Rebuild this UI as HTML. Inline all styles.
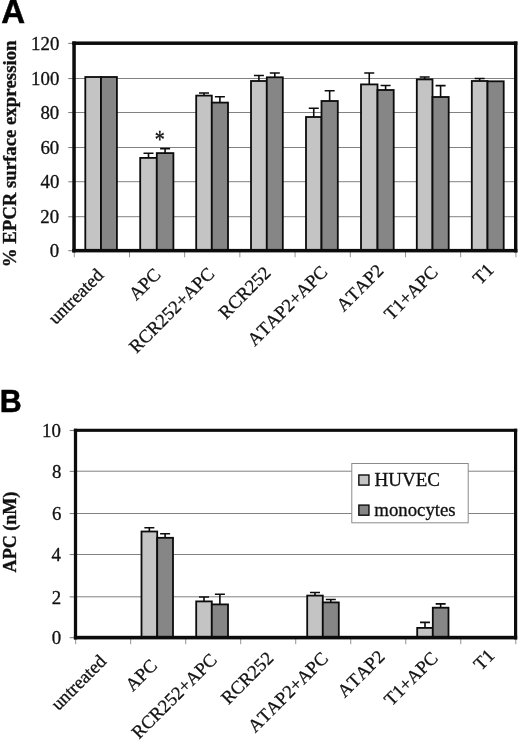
<!DOCTYPE html>
<html><head><meta charset="utf-8"><title>Figure</title>
<style>
html,body{margin:0;padding:0;background:#fff;}
body{width:520px;height:743px;overflow:hidden;}
svg{display:block;will-change:transform;}
text{font-family:"Liberation Serif",serif;fill:#111;font-kerning:none;stroke:#111;stroke-width:0.3px;}
.b{font-weight:bold;stroke-width:0.35px;}
.p{font-family:"Liberation Sans",sans-serif;font-weight:bold;fill:#000;stroke:#000;stroke-width:0.5px;}
</style></head><body>
<svg width="520" height="743" viewBox="0 0 520 743">
<rect x="0" y="0" width="520" height="743" fill="#fff"/>
<rect x="74.05" y="78.00" width="441.65" height="1.00" fill="#828282"/>
<rect x="74.05" y="112.00" width="441.65" height="1.00" fill="#828282"/>
<rect x="74.05" y="147.00" width="441.65" height="1.00" fill="#828282"/>
<rect x="74.05" y="181.20" width="441.65" height="1.00" fill="#828282"/>
<rect x="74.05" y="216.20" width="441.65" height="1.00" fill="#828282"/>
<rect x="68.25" y="42.85" width="5.80" height="0.90" fill="#6a6a6a"/>
<text transform="translate(59.36 50.20) scale(1.0200 1.0000)" font-size="18.5" text-anchor="end">120</text>
<rect x="68.25" y="78.15" width="5.80" height="0.90" fill="#6a6a6a"/>
<text transform="translate(59.36 85.26) scale(1.0200 1.0000)" font-size="18.5" text-anchor="end">100</text>
<rect x="68.25" y="112.15" width="5.80" height="0.90" fill="#6a6a6a"/>
<text transform="translate(59.27 118.52) scale(1.0200 1.0000)" font-size="18.5" text-anchor="end">80</text>
<rect x="68.25" y="147.15" width="5.80" height="0.90" fill="#6a6a6a"/>
<text transform="translate(59.27 154.28) scale(1.0200 1.0000)" font-size="18.5" text-anchor="end">60</text>
<rect x="68.25" y="181.35" width="5.80" height="0.90" fill="#6a6a6a"/>
<text transform="translate(59.40 187.85) scale(1.0200 1.0000)" font-size="18.5" text-anchor="end">40</text>
<rect x="68.25" y="216.35" width="5.80" height="0.90" fill="#6a6a6a"/>
<text transform="translate(59.16 223.39) scale(1.0200 1.0000)" font-size="18.5" text-anchor="end">20</text>
<rect x="68.25" y="250.30" width="5.80" height="0.90" fill="#6a6a6a"/>
<text transform="translate(59.20 257.36) scale(1.0200 1.0000)" font-size="18.5" text-anchor="end">0</text>
<rect x="73.80" y="250.65" width="0.90" height="6.60" fill="#888"/>
<rect x="129.01" y="250.65" width="0.90" height="6.60" fill="#888"/>
<rect x="184.21" y="250.65" width="0.90" height="6.60" fill="#888"/>
<rect x="239.42" y="250.65" width="0.90" height="6.60" fill="#888"/>
<rect x="294.62" y="250.65" width="0.90" height="6.60" fill="#888"/>
<rect x="349.83" y="250.65" width="0.90" height="6.60" fill="#888"/>
<rect x="405.04" y="250.65" width="0.90" height="6.60" fill="#888"/>
<rect x="460.24" y="250.65" width="0.90" height="6.60" fill="#888"/>
<rect x="515.45" y="250.65" width="0.90" height="6.60" fill="#888"/>
<rect x="85.30" y="77" width="15.70" height="173.65" fill="#c4c4c4" stroke="#0c0c0c" stroke-width="1.8"/>
<rect x="101.00" y="77" width="15.90" height="173.65" fill="#868686" stroke="#0c0c0c" stroke-width="1.8"/>
<path d="M148.50 157.9 V153.2 M143.50 153.2 H153.50" stroke="#0c0c0c" stroke-width="1.6" fill="none"/>
<rect x="140.20" y="157.9" width="16.60" height="92.75" fill="#c4c4c4" stroke="#0c0c0c" stroke-width="1.8"/>
<path d="M165.10 153.1 V148.6 M160.10 148.6 H170.10" stroke="#0c0c0c" stroke-width="1.6" fill="none"/>
<rect x="156.80" y="153.1" width="16.60" height="97.55" fill="#868686" stroke="#0c0c0c" stroke-width="1.8"/>
<path d="M204.00 95.6 V93 M199.00 93 H209.00" stroke="#0c0c0c" stroke-width="1.6" fill="none"/>
<rect x="196.20" y="95.6" width="15.60" height="155.05" fill="#c4c4c4" stroke="#0c0c0c" stroke-width="1.8"/>
<path d="M219.90 102.6 V96.8 M214.90 96.8 H224.90" stroke="#0c0c0c" stroke-width="1.6" fill="none"/>
<rect x="211.80" y="102.6" width="16.20" height="148.05" fill="#868686" stroke="#0c0c0c" stroke-width="1.8"/>
<path d="M258.90 81 V75.5 M253.90 75.5 H263.90" stroke="#0c0c0c" stroke-width="1.6" fill="none"/>
<rect x="251.00" y="81" width="15.80" height="169.65" fill="#c4c4c4" stroke="#0c0c0c" stroke-width="1.8"/>
<path d="M274.80 77.3 V73 M269.80 73 H279.80" stroke="#0c0c0c" stroke-width="1.6" fill="none"/>
<rect x="266.80" y="77.3" width="16.00" height="173.35" fill="#868686" stroke="#0c0c0c" stroke-width="1.8"/>
<path d="M313.75 117 V108.3 M308.75 108.3 H318.75" stroke="#0c0c0c" stroke-width="1.6" fill="none"/>
<rect x="306.00" y="117" width="15.50" height="133.65" fill="#c4c4c4" stroke="#0c0c0c" stroke-width="1.8"/>
<path d="M329.65 101 V90.8 M324.65 90.8 H334.65" stroke="#0c0c0c" stroke-width="1.6" fill="none"/>
<rect x="321.50" y="101" width="16.30" height="149.65" fill="#868686" stroke="#0c0c0c" stroke-width="1.8"/>
<path d="M369.25 84.4 V73 M364.25 73 H374.25" stroke="#0c0c0c" stroke-width="1.6" fill="none"/>
<rect x="361.00" y="84.4" width="16.50" height="166.25" fill="#c4c4c4" stroke="#0c0c0c" stroke-width="1.8"/>
<path d="M385.60 90 V85.5 M380.60 85.5 H390.60" stroke="#0c0c0c" stroke-width="1.6" fill="none"/>
<rect x="377.50" y="90" width="16.20" height="160.65" fill="#868686" stroke="#0c0c0c" stroke-width="1.8"/>
<path d="M424.65 79.4 V77 M419.65 77 H429.65" stroke="#0c0c0c" stroke-width="1.6" fill="none"/>
<rect x="416.80" y="79.4" width="15.70" height="171.25" fill="#c4c4c4" stroke="#0c0c0c" stroke-width="1.8"/>
<path d="M440.60 97 V85.6 M435.60 85.6 H445.60" stroke="#0c0c0c" stroke-width="1.6" fill="none"/>
<rect x="432.50" y="97" width="16.20" height="153.65" fill="#868686" stroke="#0c0c0c" stroke-width="1.8"/>
<path d="M479.65 81 V78.5 M474.65 78.5 H484.65" stroke="#0c0c0c" stroke-width="1.6" fill="none"/>
<rect x="471.80" y="81" width="15.70" height="169.65" fill="#c4c4c4" stroke="#0c0c0c" stroke-width="1.8"/>
<rect x="487.50" y="81.3" width="16.20" height="169.35" fill="#868686" stroke="#0c0c0c" stroke-width="1.8"/>
<rect x="72.30" y="41.45" width="3.50" height="210.95" fill="#0c0c0c"/>
<rect x="514.00" y="41.45" width="3.40" height="210.95" fill="#0c0c0c"/>
<rect x="72.30" y="41.45" width="445.10" height="3.50" fill="#0c0c0c"/>
<rect x="72.30" y="248.90" width="445.10" height="3.50" fill="#0c0c0c"/>
<text transform="translate(104.68 276.27) rotate(-45) scale(1.0050 1.0000)" font-size="18.5" text-anchor="end">untreated</text>
<text transform="translate(161.72 275.64) rotate(-45) scale(1.0050 1.0000)" font-size="18.5" text-anchor="end">APC</text>
<text transform="translate(215.40 275.00) rotate(-45) scale(1.0050 1.0000)" font-size="18.5" text-anchor="end">RCR252+APC</text>
<text transform="translate(271.94 273.88) rotate(-45) scale(1.0050 1.0000)" font-size="18.5" text-anchor="end">RCR252</text>
<text transform="translate(328.60 273.18) rotate(-45) scale(1.0050 1.0000)" font-size="18.5" text-anchor="end">ATAP2+APC</text>
<text transform="translate(384.61 271.71) rotate(-45) scale(1.0050 1.0000)" font-size="18.5" text-anchor="end">ATAP2</text>
<text transform="translate(439.00 273.33) rotate(-45) scale(1.0050 1.0000)" font-size="18.5" text-anchor="end">T1+APC</text>
<text transform="translate(494.92 271.00) rotate(-45) scale(1.0050 1.0000)" font-size="18.5" text-anchor="end">T1</text>
<text transform="translate(159.79 147.61) scale(1.0000 1.2500)" font-size="20" text-anchor="middle">*</text>
<rect x="75.50" y="470.70" width="440.10" height="1.00" fill="#828282"/>
<rect x="75.50" y="513.00" width="440.10" height="1.00" fill="#828282"/>
<rect x="75.50" y="554.00" width="440.10" height="1.00" fill="#828282"/>
<rect x="75.50" y="596.30" width="440.10" height="1.00" fill="#828282"/>
<rect x="69.70" y="429.95" width="5.80" height="0.90" fill="#6a6a6a"/>
<text transform="translate(60.98 436.70) scale(1.0200 1.0000)" font-size="18.5" text-anchor="end">10</text>
<rect x="69.70" y="470.85" width="5.80" height="0.90" fill="#6a6a6a"/>
<text transform="translate(61.47 477.50) scale(1.0200 1.0000)" font-size="18.5" text-anchor="end">8</text>
<rect x="69.70" y="513.15" width="5.80" height="0.90" fill="#6a6a6a"/>
<text transform="translate(61.32 519.98) scale(1.0200 1.0000)" font-size="18.5" text-anchor="end">6</text>
<rect x="69.70" y="554.15" width="5.80" height="0.90" fill="#6a6a6a"/>
<text transform="translate(60.92 560.69) scale(1.0200 1.0000)" font-size="18.5" text-anchor="end">4</text>
<rect x="69.70" y="596.45" width="5.80" height="0.90" fill="#6a6a6a"/>
<text transform="translate(61.16 603.50) scale(1.0200 1.0000)" font-size="18.5" text-anchor="end">2</text>
<rect x="69.70" y="637.25" width="5.80" height="0.90" fill="#6a6a6a"/>
<text transform="translate(61.18 644.19) scale(1.0200 1.0000)" font-size="18.5" text-anchor="end">0</text>
<rect x="75.25" y="637.60" width="0.90" height="6.60" fill="#888"/>
<rect x="130.26" y="637.60" width="0.90" height="6.60" fill="#888"/>
<rect x="185.28" y="637.60" width="0.90" height="6.60" fill="#888"/>
<rect x="240.29" y="637.60" width="0.90" height="6.60" fill="#888"/>
<rect x="295.30" y="637.60" width="0.90" height="6.60" fill="#888"/>
<rect x="350.31" y="637.60" width="0.90" height="6.60" fill="#888"/>
<rect x="405.33" y="637.60" width="0.90" height="6.60" fill="#888"/>
<rect x="460.34" y="637.60" width="0.90" height="6.60" fill="#888"/>
<rect x="515.35" y="637.60" width="0.90" height="6.60" fill="#888"/>
<path d="M149.35 531.5 V527.8 M144.35 527.8 H154.35" stroke="#0c0c0c" stroke-width="1.6" fill="none"/>
<rect x="141.50" y="531.5" width="15.70" height="106.10" fill="#c4c4c4" stroke="#0c0c0c" stroke-width="1.8"/>
<path d="M165.10 537.8 V533.7 M160.10 533.7 H170.10" stroke="#0c0c0c" stroke-width="1.6" fill="none"/>
<rect x="157.20" y="537.8" width="15.80" height="99.80" fill="#868686" stroke="#0c0c0c" stroke-width="1.8"/>
<path d="M204.00 601.4 V597 M199.00 597 H209.00" stroke="#0c0c0c" stroke-width="1.6" fill="none"/>
<rect x="196.20" y="601.4" width="15.60" height="36.20" fill="#c4c4c4" stroke="#0c0c0c" stroke-width="1.8"/>
<path d="M219.90 604.4 V594.3 M214.90 594.3 H224.90" stroke="#0c0c0c" stroke-width="1.6" fill="none"/>
<rect x="211.80" y="604.4" width="16.20" height="33.20" fill="#868686" stroke="#0c0c0c" stroke-width="1.8"/>
<path d="M315.00 595.6 V592.5 M310.00 592.5 H320.00" stroke="#0c0c0c" stroke-width="1.6" fill="none"/>
<rect x="307.20" y="595.6" width="15.60" height="42.00" fill="#c4c4c4" stroke="#0c0c0c" stroke-width="1.8"/>
<path d="M330.80 602.4 V599.5 M325.80 599.5 H335.80" stroke="#0c0c0c" stroke-width="1.6" fill="none"/>
<rect x="322.80" y="602.4" width="16.00" height="35.20" fill="#868686" stroke="#0c0c0c" stroke-width="1.8"/>
<path d="M425.00 627.9 V622.4 M420.00 622.4 H430.00" stroke="#0c0c0c" stroke-width="1.6" fill="none"/>
<rect x="417.20" y="627.9" width="15.60" height="9.70" fill="#c4c4c4" stroke="#0c0c0c" stroke-width="1.8"/>
<path d="M440.65 607.7 V603.9 M435.65 603.9 H445.65" stroke="#0c0c0c" stroke-width="1.6" fill="none"/>
<rect x="432.80" y="607.7" width="15.70" height="29.90" fill="#868686" stroke="#0c0c0c" stroke-width="1.8"/>
<rect x="73.88" y="428.75" width="3.25" height="210.65" fill="#0c0c0c"/>
<rect x="514.00" y="428.75" width="3.20" height="210.65" fill="#0c0c0c"/>
<rect x="73.88" y="428.75" width="443.33" height="3.10" fill="#0c0c0c"/>
<rect x="73.88" y="635.80" width="443.33" height="3.60" fill="#0c0c0c"/>
<text transform="translate(107.38 662.37) rotate(-45) scale(1.0050 1.0000)" font-size="18.5" text-anchor="end">untreated</text>
<text transform="translate(158.24 666.61) rotate(-45) scale(1.0050 1.0000)" font-size="18.5" text-anchor="end">APC</text>
<text transform="translate(218.02 660.90) rotate(-45) scale(1.0050 1.0000)" font-size="18.5" text-anchor="end">RCR252+APC</text>
<text transform="translate(274.48 659.24) rotate(-45) scale(1.0050 1.0000)" font-size="18.5" text-anchor="end">RCR252</text>
<text transform="translate(329.20 659.58) rotate(-45) scale(1.0050 1.0000)" font-size="18.5" text-anchor="end">ATAP2+APC</text>
<text transform="translate(385.75 657.63) rotate(-45) scale(1.0050 1.0000)" font-size="18.5" text-anchor="end">ATAP2</text>
<text transform="translate(439.00 659.16) rotate(-45) scale(1.0050 1.0000)" font-size="18.5" text-anchor="end">T1+APC</text>
<text transform="translate(495.61 656.60) rotate(-45) scale(1.0050 1.0000)" font-size="18.5" text-anchor="end">T1</text>
<rect x="351.8" y="463.5" width="116.4" height="59.3" fill="#fff" stroke="#8a8a8a" stroke-width="1"/>
<rect x="358.85" y="475.0" width="10.1" height="10.1" fill="#c4c4c4" stroke="#0c0c0c" stroke-width="1.4"/>
<rect x="358.85" y="505.1" width="10.1" height="10.1" fill="#868686" stroke="#0c0c0c" stroke-width="1.4"/>
<text transform="translate(374.44 486.32) scale(1.0300 1.0000)" font-size="18.5">HUVEC</text>
<text transform="translate(374.32 515.90) scale(1.0150 1.0000)" font-size="18.5">monocytes</text>
<text class="b" transform="translate(15.80 153.88) rotate(-90) scale(1.0150 1.0000)" font-size="18.5" text-anchor="middle">% EPCR surface expression</text>
<text class="b" transform="translate(15.70 532.05) rotate(-90) scale(0.9770 1.0000)" font-size="18.5" text-anchor="middle">APC (nM)</text>
<text class="p" transform="translate(1.35 23.47)" font-size="33">A</text>
<text class="p" transform="translate(-0.20 411.75) scale(0.9500 1.0000)" font-size="32">B</text>
</svg>
</body></html>
